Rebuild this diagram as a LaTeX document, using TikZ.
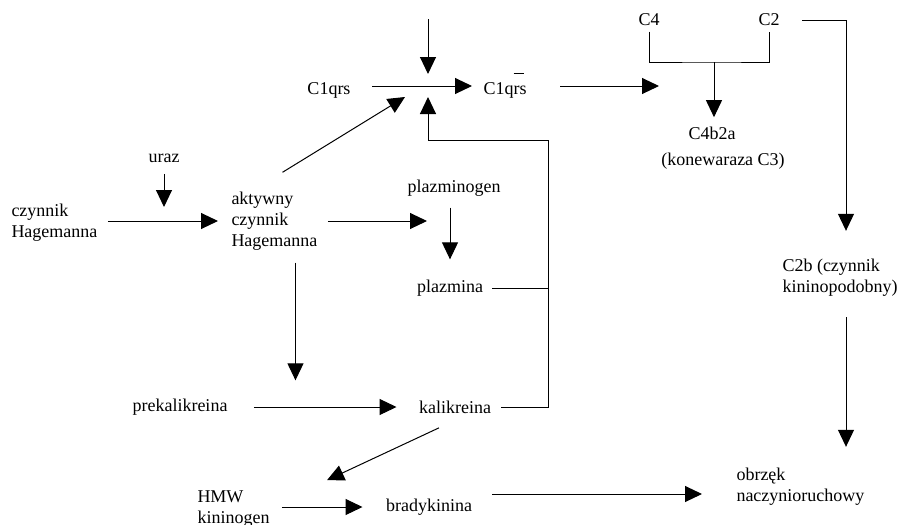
\documentclass[tikz,border=0pt]{standalone}
\usepackage{fontspec}
\setmainfont{Liberation Serif}
\usepackage{tikz}
\usetikzlibrary{arrows.meta}

\begin{document}
\begin{tikzpicture}[x=0.5pt, y=-0.5pt, line width=0.5pt,
        every node/.style={font=\fontsize{9}{10.5}\selectfont, inner sep=0pt},
        arr/.style={-{Triangle[length=8.5pt,width=8pt]}}]
            \useasboundingbox (0,0) rectangle (900,525);

            \node (c1) at (329,90) {C1qrs};
            \node (c1b) at (505,90) {C1q\smash{\rlap{\raisebox{10pt}{\rule{5pt}{0.5pt}}}}rs};
            \node (c4) at (649,20) {C4};
            \node (c2) at (769,20) {C2};
            \node (c4b2a) at (712,133) {C4b2a};
            \node (konw) at (723,161) {(konewaraza C3)};
            \node[anchor=west, align=left] (c2b) at (782,278) {C2b (czynnik\\kininopodobny)};
            \node[anchor=west, align=left] (obrz) at (736,487) {obrzęk\\naczynioruchowy};
            \node[anchor=west, align=left] (czyn) at (11,223) {czynnik\\Hagemanna};
            \node (uraz) at (164,158) {uraz};
            \node[anchor=west, align=left] (akt) at (231,221) {aktywny\\czynnik\\Hagemanna};
            \node (plg) at (454,188) {plazminogen};
            \node (plz) at (450,288) {plazmina};
            \node (prek) at (180,407) {prekalikreina};
            \node (kal) at (455,407) {kalikreina};
            \node[anchor=west, align=left] (hmw) at (197,509) {HMW\\kininogen};
            \node (brad) at (429,507) {bradykinina};

            \coordinate (zew) at (428,19);
            \coordinate (w) at (428,86);
            \coordinate (kl) at (714,62);
            \coordinate (kol) at (846,20);
            \coordinate (zb) at (548,140);

            \draw[arr, shorten >=6pt] (zew) -- (w);
            \draw[arr, shorten <=10.5pt, shorten >=5.5pt] (c1.east |- w) -- (c1b.west |- w);
            \draw[arr, shorten <=16.5pt, shorten >=14.5pt] (c1b.east |- w) -- (c4b2a.west |- w);
            \draw[shorten <=2.5pt, shorten >=2.5pt] (c4.south) |- (kl) -| (c2.south);
            \draw[arr, shorten >=4.5pt] (kl) -- (kl |- c4b2a.north);
            \draw[arr, shorten <=11pt, shorten >=14pt] (c2.east) -| (kol |- c2b.north);
            \draw[arr, shorten <=10pt, shorten >=10.5pt] (kol |- c2b.south) -- (kol |- obrz.north);

            \draw[arr, shorten <=5.5pt, shorten >=7pt] (uraz.south) -- (uraz.south |- akt.west);
            \draw[arr, shorten <=5pt, shorten >=6.5pt] (akt.west -| czyn.east) -- (akt.west);
            \draw[arr, shorten <=5pt, shorten >=11.5pt] (akt.east) -- (akt.east -| plz.north);
            \draw[arr, shorten <=5.5pt, shorten >=10pt] (plz.north |- plg.south) -- (plz.north);
            \draw[shorten <=4.5pt] (plz.east) -- (plz.east -| zb);
            \draw[arr, shorten <=5pt, shorten >=5.5pt] (kal.east) -| (zb) -| (w);
            \draw[arr] ([xshift=4pt,yshift=9.5pt]akt.north) -- ([xshift=-11.5pt,yshift=-5.5pt]w);
            \draw[arr, shorten <=6pt, shorten >=9pt] ([xshift=10.5pt]akt.south) -- ([xshift=10.5pt]akt.south |- prek.north);
            \draw[arr, shorten <=13pt, shorten >=11pt] (prek.east) -- (kal.west);
            \draw[arr] ([xshift=-8pt,yshift=-7pt]kal.south) -- ([xshift=28.5pt,yshift=5pt]hmw.north east);
            \draw[arr, shorten <=6pt, shorten >=11.5pt] (brad.west -| hmw.east) -- (brad.west);
            \draw[arr, shorten <=10pt, shorten >=17pt] ([yshift=-3.5pt]obrz.west -| brad.east) -- ([yshift=-3.5pt]obrz.west);
         \end{tikzpicture}
\end{document}
